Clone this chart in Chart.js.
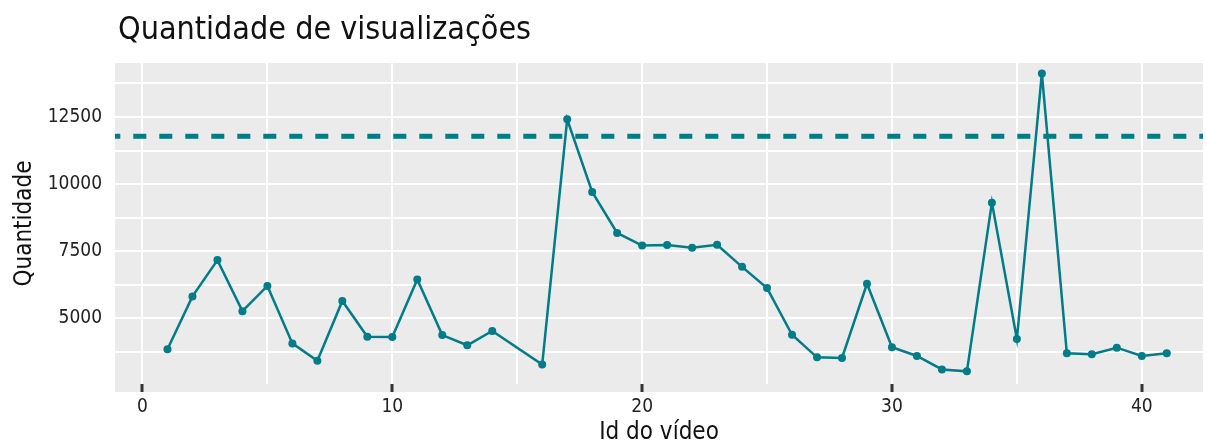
<!DOCTYPE html>
<html>
<head>
<meta charset="utf-8">
<script src="https://cdn.jsdelivr.net/npm/chart.js@4.4.1/dist/chart.umd.min.js"></script>
<style>
    html, body { margin: 0; padding: 0; background: #fff; overflow: hidden; }
    #wrap { width: 1207px; height: 444px; position: relative; }
</style>
</head>
<body>
<div id="wrap"><canvas id="viewsChart" width="1207" height="444"></canvas></div>
<script>
// Id of each video (15 is missing in the data)
const videoIds = [1, 2, 3, 4, 5, 6, 7, 8, 9, 10, 11, 12, 13, 14, 16, 17, 18, 19, 20, 21,
    22, 23, 24, 25, 26, 27, 28, 29, 30, 31, 32, 33, 34, 35, 36, 37, 38, 39, 40, 41];
// Views per video
const views = [3850, 5820, 7170, 5270, 6210, 4070, 3420, 5650, 4320, 4310, 6450, 4380, 4000, 4530, 3280, 12410, 9710, 8180, 7710, 7730,
    7630, 7740, 6920, 6130, 4390, 3550, 3530, 6290, 3930, 3600, 3100, 3030, 9310, 4230, 14120, 3700, 3670, 3910, 3600, 3700];
// Reference level (dashed line)
const threshold = 11780;
// gridlines (major + minor) and labelled ticks
const xGrid = [0, 5, 10, 15, 20, 25, 30, 35, 40];
const xTickLabels = [0, 10, 20, 30, 40];
const yGrid = [3750, 5000, 6250, 7500, 8750, 10000, 11250, 12500, 13750];
const yTickLabels = [5000, 7500, 10000, 12500];

const FONT = '"Liberation Sans Narrow", "DejaVu Sans Condensed", "Roboto", sans-serif';
const teal = '#007b88';
const xMin = -1.1, xMax = 42.45;

Chart.defaults.font.family = FONT;
Chart.defaults.color = '#222';

// grey ggplot style panel + title
const panelPlugin = {
    id: 'panel',
    beforeDraw(chart) {
        const {ctx, chartArea: a} = chart;
        ctx.save();
        ctx.fillStyle = '#ebebeb';
        ctx.fillRect(a.left, a.top, a.right - a.left, a.bottom - a.top + 8);
        ctx.fillStyle = '#111';
        ctx.font = '32px ' + FONT;
        ctx.textBaseline = 'alphabetic';
        ctx.fillText('Quantidade de visualizações', 118, 39);
        ctx.restore();
    }
};

const points = videoIds.map((id, i) => ({x: id, y: views[i]}));

new Chart(document.getElementById('viewsChart'), {
    type: 'line',
    data: {
        datasets: [{
            data: [{x: xMin, y: threshold}, {x: xMax, y: threshold}],
            borderColor: teal,
            borderWidth: 5,
            borderDash: [13, 13],
            borderDashOffset: 7.7,
            pointRadius: 0
        }, {
            data: points,
            borderColor: teal,
            backgroundColor: teal,
            borderWidth: 2.5,
            tension: 0,
            pointRadius: 4,
            pointBorderWidth: 0,
            pointBackgroundColor: teal
        }]
    },
    options: {
        responsive: false,
        animation: false,
        layout: { padding: { top: 63, left: 0, right: 0, bottom: 0 } },
        plugins: {
            legend: { display: false },
            tooltip: { enabled: false }
        },
        scales: {
            x: {
                type: 'linear',
                min: xMin,
                max: xMax,
                afterBuildTicks: s => { s.ticks = xGrid.map(v => ({value: v})); },
                afterFit: s => { s.height = 60; },
                border: { display: false },
                grid: {
                    color: '#fff',
                    lineWidth: 2,
                    drawTicks: true,
                    tickLength: 8,
                    tickWidth: 3,
                    tickColor: c => xTickLabels.includes(c.tick.value) ? '#333' : 'rgba(0,0,0,0)'
                },
                ticks: {
                    autoSkip: false,
                    maxRotation: 0,
                    padding: 4,
                    font: { size: 19 },
                    color: '#222',
                    callback: v => xTickLabels.includes(v) ? String(v) : ''
                },
                title: {
                    display: true,
                    text: 'Id do vídeo',
                    color: '#111',
                    font: { size: 24, lineHeight: 0.9 },
                    padding: 0
                }
            },
            y: {
                min: 2558,
                max: 14508,
                afterBuildTicks: s => { s.ticks = yGrid.map(v => ({value: v})); },
                afterFit: s => { s.width = 115; },
                border: { display: false },
                grid: {
                    color: '#fff',
                    lineWidth: 2,
                    drawTicks: false
                },
                ticks: {
                    autoSkip: false,
                    padding: 13,
                    font: { size: 19 },
                    color: '#222',
                    callback: v => yTickLabels.includes(v) ? String(v) : ''
                },
                title: {
                    display: true,
                    text: 'Quantidade',
                    color: '#111',
                    font: { size: 24, lineHeight: 1 },
                    padding: { top: 13, bottom: 0 }
                }
            }
        }
    },
    plugins: [panelPlugin]
});
</script>
</body>
</html>
